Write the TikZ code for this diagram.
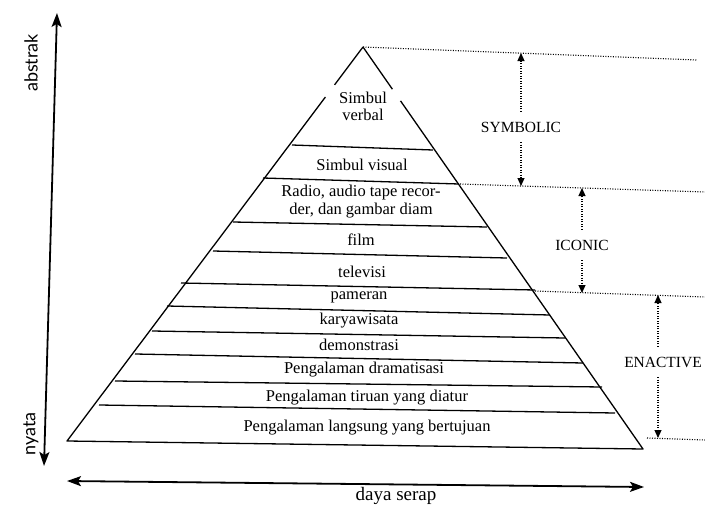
\documentclass[tikz,border=0pt]{standalone}
\usepackage{fontspec}
\setmainfont{Liberation Serif}
\newfontfamily\axisfont{Lato}
\usetikzlibrary{arrows.meta,calc}
\tikzset{
  pyr/.style={line width=1.3pt, line join=round},
  layer/.style={line width=1.3pt},
  lbl/.style={font=\rmfamily\fontsize{16.5}{17}\selectfont, align=center, inner sep=0pt},
  lvl/.style={font=\rmfamily\fontsize{15.5}{16}\selectfont, inner sep=0pt, minimum height=30pt},
  guide/.style={line width=1.1pt, dash pattern=on 1pt off 1.5pt},
  darr/.style={line width=1.1pt, dash pattern=on 1pt off 1.5pt, -{Triangle[length=8pt,width=7pt]}},
  axis/.style={line width=1.8pt, {Stealth[length=14pt,width=10pt,inset=3pt]}-{Stealth[length=14pt,width=10pt,inset=3pt]}},
  axlbl/.style={font=\axisfont\fontsize{18}{20}\selectfont, inner sep=0pt}
}
\begin{document}
\begin{tikzpicture}[x=1pt,y=-1pt]
\useasboundingbox (0,0) rectangle (705,506);
% pyramid corners
\coordinate (A) at (363,47);
\coordinate (BL) at (67,441);
\coordinate (BR) at (643,449);
\draw[pyr] (A) -- ($(A)!0.096!(BL)$);
\draw[pyr] ($(A)!0.127!(BL)$) -- (BL) -- (BR) -- ($(A)!0.134!(BR)$);
\draw[pyr] ($(A)!0.105!(BR)$) -- (A);
% layer lines
\draw[layer] (292,145) -- (433,150);
\draw[layer] (263,178) -- (459,184);
\draw[layer] (233,222) -- (487,227);
\draw[layer] (213,251) -- (507,258);
\draw[layer] (181,283) -- (535,290);
\draw[layer] (167,306) -- (550,315);
\draw[layer] (152,331) -- (565,338);
\draw[layer] (135,354) -- (583,363);
\draw[layer] (115,381) -- (602,387);
\draw[layer] (99,405) -- (615,413);
% layer texts
\node[lbl] (sverb) at (363,106) {Simbul\\verbal};
\node[lbl] (svis) at (362,165) {Simbul visual};
\node[lbl, font=\rmfamily\fontsize{16.5}{18}\selectfont] (radio) at (361,202) {Radio, audio tape recor-\\der, dan gambar diam};
\node[lbl] (film) at (361,240) {film};
\node[lbl] (tv) at (362,272) {televisi};
\node[lbl] (pam) at (359,297) {pameran};
\node[lbl] (karya) at (359,321) {karyawisata};
\node[lbl] (demo) at (359,345) {demonstrasi};
\node[lbl] (drama) at (364,370) {Pengalaman dramatisasi};
\node[lbl] (tiruan) at (367,398) {Pengalaman tiruan yang diatur};
\node[lbl] (langs) at (367,428) {Pengalaman langsung yang bertujuan};
% dotted guide lines
\coordinate (g0a) at (363,47);  \coordinate (g0b) at (697,60);
\coordinate (g1a) at (460,184); \coordinate (g1b) at (705,192);
\coordinate (g2a) at (535,291); \coordinate (g2b) at (705,297);
\coordinate (g3a) at (647,438); \coordinate (g3b) at (705,440);
\draw[guide] (g0a) -- (g0b);
\draw[guide] (g1a) -- (g1b);
\draw[guide] (g2a) -- (g2b);
\draw[guide] (g3a) -- (g3b);
% stage labels and arrows
\node[lvl] (sym) at (521,127) {SYMBOLIC};
\node[lvl] (ico) at (582,245) {ICONIC};
\node[lvl] (ena) at (663,362) {ENACTIVE};
\coordinate (s1) at (521,53);  \coordinate (s2) at (521,186);
\coordinate (i1) at (582,188); \coordinate (i2) at (582,293);
\coordinate (e1) at (658,295); \coordinate (e2) at (658,438);
\draw[darr] (sym.north) -- (s1);
\draw[darr] (sym.south) -- (s2);
\draw[darr] (ico.north) -- (i1);
\draw[darr] (ico.south) -- (i2);
\draw[darr] (e1 |- ena.north) -- (e1);
\draw[darr] (e2 |- ena.south) -- (e2);
% axes
\coordinate (vb) at (44,466); \coordinate (vt) at (57,13);
\draw[axis] (vb) -- (vt);
\coordinate (hl) at (67,481); \coordinate (hr) at (644,487);
\draw[axis] (hl) -- (hr);
\node[axlbl, rotate=90] (abs) at (31,63) {abstrak};
\node[axlbl, rotate=90] (nya) at (31,434) {nyata};
\node[axlbl, font=\rmfamily\fontsize{19}{20}\selectfont] (daya) at (396,496) {daya serap};
\end{tikzpicture}
\end{document}
